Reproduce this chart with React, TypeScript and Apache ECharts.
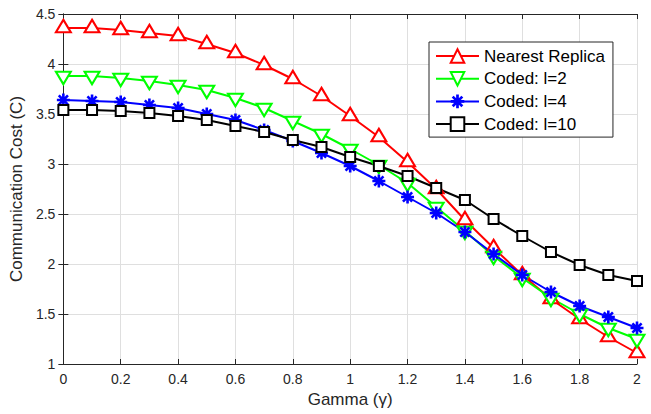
import React, { useEffect, useRef } from "react";
import * as echarts from "echarts";

const gamma = [0, 0.1, 0.2, 0.3, 0.4, 0.5, 0.6, 0.7, 0.8, 0.9, 1.0, 1.1, 1.2, 1.3, 1.4, 1.5, 1.6, 1.7, 1.8, 1.9, 2.0];
const nearestReplica = [4.36, 4.36, 4.34, 4.31, 4.28, 4.2, 4.11, 3.99, 3.85, 3.68, 3.48, 3.27, 3.02, 2.75, 2.44, 2.16, 1.89, 1.65, 1.45, 1.27, 1.11];
const codedL2 = [3.88, 3.88, 3.86, 3.83, 3.79, 3.74, 3.66, 3.56, 3.43, 3.3, 3.15, 2.99, 2.81, 2.57, 2.33, 2.08, 1.86, 1.66, 1.5, 1.36, 1.25];
const codedL4 = [3.64, 3.63, 3.62, 3.59, 3.56, 3.5, 3.44, 3.34, 3.23, 3.11, 2.98, 2.83, 2.67, 2.51, 2.32, 2.1, 1.89, 1.72, 1.58, 1.47, 1.36];
const codedL10 = [3.54, 3.54, 3.53, 3.51, 3.48, 3.44, 3.38, 3.32, 3.24, 3.17, 3.07, 2.98, 2.88, 2.76, 2.64, 2.45, 2.28, 2.12, 1.99, 1.89, 1.83];
const seriesNames = ["Nearest Replica", "Coded: l=2", "Coded: l=4", "Coded: l=10"];

const ASTERISK =
  "path://M-10 -2 L10 -2 L10 2 L-10 2 Z " +
  "M-2 -10 L2 -10 L2 10 L-2 10 Z " +
  "M-5.66 -8.49 L8.49 5.66 L5.66 8.49 L-8.49 -5.66 Z " +
  "M-8.49 5.66 L5.66 -8.49 L8.49 -5.66 L-5.66 8.49 Z";

const FONT = "'Liberation Sans', Arial, Helvetica, sans-serif";
const AXIS_COLOR = "#262626";
const GRID_COLOR = "#dfdfdf";

export default function App() {
  const ref = useRef<HTMLDivElement>(null);

  useEffect(() => {
    if (!ref.current) return;
    const chart = echarts.init(ref.current, undefined, { renderer: "svg" });

    const pairs = (ys: number[]) => gamma.map((g, i) => [g, ys[i]]);

    const mkSeries = (
      name: string,
      data: number[],
      color: string,
      symbol: string,
      size: any,
      rotate = 0,
      offset = [0, 0],
      empty = true
    ) => ({
      name,
      type: "line",
      data: pairs(data),
      symbol,
      symbolSize: size,
      symbolRotate: rotate,
      symbolOffset: offset,
      showAllSymbol: true,
      lineStyle: { color, width: 2 },
      itemStyle: empty
        ? { color, borderColor: color, borderWidth: 2 }
        : { color, borderWidth: 0 },
      emphasis: { disabled: true },
      xAxisIndex: 0,
      yAxisIndex: 0,
    });

    const axisTickStyle = { lineStyle: { color: AXIS_COLOR, width: 1 } };

    chart.setOption({
      animation: false,
      backgroundColor: "#ffffff",
      grid: { left: 60, top: 14, right: 14, bottom: 50, containLabel: false },
      legend: {
        orient: "vertical",
        left: 429,
        top: 42,
        padding: [5, 8, 4, 6],
        itemWidth: 43,
        itemHeight: 17,
        itemGap: 4.7,
        backgroundColor: "#ffffff",
        borderColor: AXIS_COLOR,
        borderWidth: 1,
        textStyle: { fontFamily: "Liberation Sans", fontSize: 17, color: "#000000", lineHeight: 18 },
        data: seriesNames,
      },
      xAxis: [
        {
          type: "value",
          min: 0,
          max: 2,
          interval: 0.2,
          position: "bottom",
          name: "Gamma (\u03b3)",
          nameLocation: "middle",
          nameGap: 27,
          nameTextStyle: { fontFamily: FONT, fontSize: 17, color: AXIS_COLOR },
          axisLine: { show: true, lineStyle: { color: AXIS_COLOR, width: 1 } },
          axisTick: { show: true, inside: true, length: 5, ...axisTickStyle },
          axisLabel: { fontFamily: FONT, fontSize: 14, color: AXIS_COLOR, margin: 8 },
          splitLine: { show: true, lineStyle: { color: GRID_COLOR, width: 1 } },
        },
        {
          type: "value",
          min: 0,
          max: 2,
          interval: 0.2,
          position: "top",
          axisLine: { show: true, lineStyle: { color: AXIS_COLOR, width: 1 } },
          axisTick: { show: true, inside: true, length: 5, ...axisTickStyle },
          axisLabel: { show: false },
          splitLine: { show: false },
        },
      ],
      yAxis: [
        {
          type: "value",
          min: 1,
          max: 4.5,
          interval: 0.5,
          position: "left",
          name: "Communication Cost (C)",
          nameLocation: "middle",
          nameGap: 27,
          nameTextStyle: { fontFamily: FONT, fontSize: 17, color: AXIS_COLOR },
          axisLine: { show: true, lineStyle: { color: AXIS_COLOR, width: 1 } },
          axisTick: { show: true, inside: true, length: 5, ...axisTickStyle },
          axisLabel: { fontFamily: FONT, fontSize: 14, color: AXIS_COLOR, margin: 8 },
          splitLine: { show: true, lineStyle: { color: GRID_COLOR, width: 1 } },
        },
        {
          type: "value",
          min: 1,
          max: 4.5,
          interval: 0.5,
          position: "right",
          axisLine: { show: true, lineStyle: { color: AXIS_COLOR, width: 1 } },
          axisTick: { show: true, inside: true, length: 5, ...axisTickStyle },
          axisLabel: { show: false },
          splitLine: { show: false },
        },
      ],
      series: [
        mkSeries(seriesNames[0], nearestReplica, "#ff0000", "emptyTriangle", [15, 12.5], 0, [0, -2]),
        mkSeries(seriesNames[1], codedL2, "#00ff00", "emptyTriangle", [15, 12.5], 180, [0, 2]),
        mkSeries(seriesNames[2], codedL4, "#0000ff", ASTERISK, 13, 0, [0, 0], false),
        mkSeries(seriesNames[3], codedL10, "#000000", "emptyRect", 10),
      ],
    });

    return () => chart.dispose();
  }, []);

  return (
    <div
      ref={ref}
      style={{ position: "fixed", left: 0, top: 0, width: 651, height: 414, background: "#fff" }}
    />
  );
}
